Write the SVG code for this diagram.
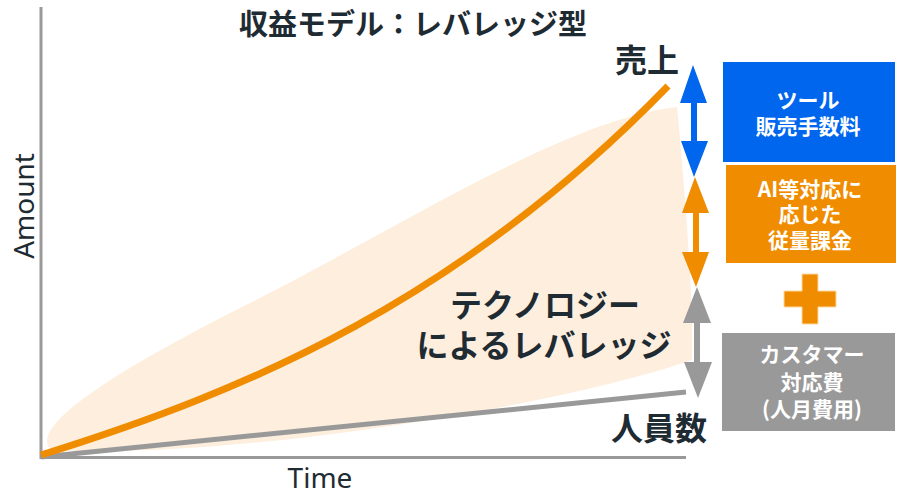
<svg xmlns="http://www.w3.org/2000/svg" width="898" height="496" viewBox="0 0 898 496">
<style>
.jp{font-family:"Noto Sans CJK JP","Noto Sans",sans-serif;font-weight:700;fill:#1E2B33;text-anchor:middle}
.bx{font-family:"Noto Sans CJK JP","Noto Sans",sans-serif;font-weight:700;font-size:21px;fill:#FFFFFF;text-anchor:middle}
.ax{font-family:"Noto Sans","Open Sans",sans-serif;font-size:28px;fill:#1E2B33;text-anchor:middle}
.axis{stroke:#999999;stroke-width:3;fill:none}
</style>
<rect width="898" height="496" fill="#FFFFFF"/>
<g id="area">
<path d="M48,446 C40,425 90,385 230,313 C380,240 560,120 677,107 C684,180 694,300 692,360 C560,405 300,445 150,450 C80,452 52,452 48,446 Z" fill="#FDEEDD"/>
</g>
<g id="axes">
<line class="axis" x1="41" y1="7" x2="41" y2="459"/>
<line class="axis" x1="40" y1="457.5" x2="686" y2="457.5"/>
<text class="ax" transform="translate(34,206) rotate(-90)">Amount</text>
<text class="ax" x="320" y="488">Time</text>
</g>
<g id="title"><text class="jp" x="413" y="35" font-size="29">収益モデル：レバレッジ型</text></g>
<g id="cost-line">
<line x1="41" y1="457" x2="686" y2="392" stroke="#999999" stroke-width="5"/>
</g>
<g id="sales-line">
<path d="M41,455 C250,390 460,300 668,86" fill="none" stroke="#F08C00" stroke-width="7"/>
</g>
<g id="label-sales"><text class="jp" x="647" y="72" font-size="32">売上</text></g>
<g id="label-leverage">
<text class="jp" x="545" y="317" font-size="32">テクノロジー</text>
<text class="jp" x="544" y="357" font-size="32">によるレバレッジ</text>
</g>
<g id="label-staff"><text class="jp" x="659" y="440" font-size="32">人員数</text></g>
<g id="connectors">
<path d="M693,65 L707,103 L697,103 L697,141 L708,141 L694,177 L681,141 L691,141 L691,103 L680,103 Z" fill="#0066EE"/>
<path d="M695,177 L709,213 L699,213 L699,252 L709,252 L696,287 L682,252 L693,252 L693,213 L682,213 Z" fill="#F08C00"/>
<path d="M697,287 L711,323 L700,323 L700,362 L712,362 L698,398 L684,362 L694,362 L694,323 L683,323 Z" fill="#999999"/>
</g>
<g id="box-tool">
<rect x="723" y="62" width="172" height="100" fill="#0066EE"/>
<text class="bx" x="808" y="108">ツール</text>
<text class="bx" x="808" y="134">販売手数料</text>
</g>
<g id="box-ai">
<rect x="726" y="165" width="170" height="98" fill="#F08C00"/>
<text class="bx" x="810" y="197">AI等対応に</text>
<text class="bx" x="810" y="222">応じた</text>
<text class="bx" x="810" y="248">従量課金</text>
</g>
<g id="plus">
<path d="M802,274 H818 V291 H836 V307 H818 V324 H802 V307 H784 V291 H802 Z" fill="#F08C00" stroke="#FFD9A0" stroke-width="1"/>
</g>
<g id="box-cost">
<rect x="722" y="333" width="173" height="98" fill="#999999"/>
<text class="bx" x="812" y="362" fill="#F2F2F2">カスタマー</text>
<text class="bx" x="812" y="390" fill="#F2F2F2">対応費</text>
<text class="bx" x="812" y="417" fill="#F2F2F2">(人月費用)</text>
</g>
</svg>
